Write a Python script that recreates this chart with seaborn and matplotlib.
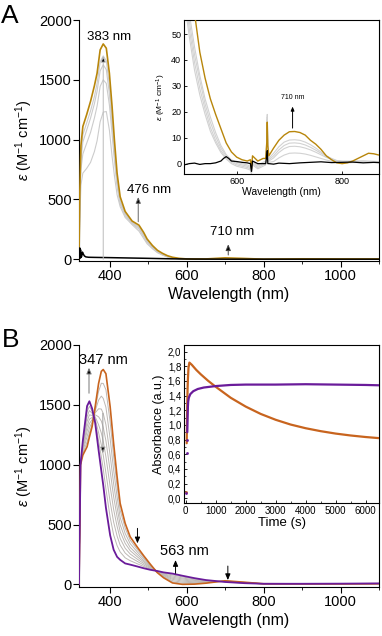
import matplotlib
matplotlib.use("Agg")
import matplotlib.pyplot as plt
import seaborn as sns
from matplotlib.ticker import MultipleLocator, FuncFormatter

# ---------------- Panel A : main spectra ----------------
WL_A = [320, 322, 325, 330, 340, 350, 360, 367, 375, 383, 391, 399, 406, 412, 419,
        427, 440, 458, 476, 488, 497, 511, 524, 537, 550, 563, 580, 600, 650, 700,
        750, 800, 900, 1000, 1100]
A_GOLD = [0, 550, 950, 1110, 1210, 1320, 1450, 1555, 1750, 1800, 1764, 1555, 1276, 1000, 720,
          523, 400, 320, 285, 225, 170, 115, 75, 50, 30, 17, 8, 3, 3, 12,
          7, 1, 4, 3, 3]
A_GREY_4 = [0, 500, 880, 1040, 1140, 1240, 1360, 1470, 1650, 1700, 1660, 1450, 1180, 920, 665,
            490, 385, 310, 270, 210, 158, 105, 68, 44, 25, 13, 5, 1, 1, 9,
            4, 0, 2, 2, 2]
A_GREY_3 = [0, 470, 830, 980, 1080, 1180, 1300, 1405, 1575, 1625, 1585, 1385, 1120, 880, 640,
            475, 378, 305, 262, 200, 150, 100, 64, 41, 23, 12, 4, 0, 0, 8,
            3, 0, 2, 2, 2]
A_GREY_2 = [0, 420, 750, 880, 970, 1060, 1180, 1280, 1445, 1500, 1470, 1290, 1050, 830, 610,
            460, 365, 298, 252, 190, 142, 95, 60, 38, 21, 11, 3, 0, 0, 7,
            2, 0, 1, 1, 1]
A_GREY_1 = [0, 330, 620, 720, 760, 810, 900, 990, 1150, 1230, 1235, 1080, 860, 700, 540,
            440, 350, 290, 235, 175, 130, 88, 55, 35, 19, 10, 3, 0, 0, 4,
            1, 0, 1, 1, 1]
A_BLK_WL = [320, 321, 322, 323, 324, 325, 327, 329, 331, 334, 338, 345, 360, 400, 450,
            500, 560, 620, 700, 800, 900, 1000, 1100]
A_BLK = [0, 40, 95, 10, 80, 15, 25, 60, 45, 28, 20, 17, 16, 14, 11,
         8, 4, 2, 1, 1, 1, 1, 1]

# ---------------- Panel A : inset ----------------
WL_I = [500, 510, 520, 530, 540, 550, 560, 570, 580, 590, 600, 610, 620, 626, 628,
        630, 640, 650, 655, 657, 658, 659, 661, 670, 680, 690, 700, 710, 720, 730,
        740, 750, 760, 770, 780, 790, 800, 810, 820, 830, 840, 850, 860, 870]
I_GOLD = [90, 72, 58, 43, 33, 25, 19, 13.5, 8, 4.5, 2.5, 1.5, 1, 1.5, -2,
          3, 1, 2, 2, 8, 16, 7, 3, 6, 9, 11, 12.3, 12.4, 12, 11,
          9, 7.5, 5.5, 3, 1.5, 0.3, 0, 0.3, 1, 2, 3, 4, 3.8, 3.3]
I_GREY_4 = [75, 58, 45, 34, 25, 18, 12, 7, 3.5, 1.5, 0.5, 0, -0.5, -1, -3,
            1, -0.5, 0.5, 1, 8, 19, 6, 2, 4, 6.5, 8.3, 9.1, 9.2, 9, 8.3,
            7.3, 6, 4.5, 3, 2, 1.2, 1, 1, 1, 1, 1.1, 1, 0.9, 0.8]
I_GREY_3 = [72, 55, 42, 32, 23, 16, 10.5, 6, 3, 1, 0, -0.5, -1, -1.5, -3,
            0.5, -1, 0, 0.5, 7, 18, 5, 1.5, 3, 5.3, 7, 7.9, 8, 7.8, 7.2,
            6.3, 5.2, 4, 2.8, 1.8, 1.1, 0.8, 0.8, 0.8, 0.9, 0.9, 0.8, 0.7, 0.6]
I_GREY_2 = [68, 52, 39, 29, 21, 14, 9, 5, 2.3, 0.5, -0.5, -1, -1.5, -2, -3.5,
            0, -1.5, -0.5, 0, 6, 17, 4, 1, 2.2, 4.3, 5.8, 6.6, 6.7, 6.5, 6,
            5.3, 4.4, 3.4, 2.4, 1.6, 0.9, 0.6, 0.6, 0.6, 0.7, 0.7, 0.6, 0.5, 0.5]
I_GREY_1 = [64, 49, 36, 26.5, 19, 12.5, 8, 4.3, 1.8, 0, -1, -1.5, -2, -2.5, -4,
            -0.5, -2, -1, -0.5, 5, 15, 3, 0.5, 0.8, 2.2, 3.3, 4, 4.1, 4, 3.7,
            3.2, 2.6, 2, 1.4, 0.9, 0.5, 0.3, 0.3, 0.4, 0.4, 0.5, 0.4, 0.4, 0.3]
I_BLK_WL = [500, 510, 520, 530, 540, 550, 560, 570, 575, 580, 585, 590, 600, 610, 620,
            626, 628, 630, 640, 650, 655, 657, 658, 659, 661, 670, 680, 700, 720, 740,
            760, 780, 800, 820, 840, 860, 870]
I_BLK = [-0.5, 0, 0.2, -0.3, 0, 0, 0.3, 1, 2, 2.7, 2, 1, 0.8, 0.5, 0.3,
         0, -3, 1, 0, 0, 0, 3, 5, 0, 0, -0.2, 0.2, 0, 0.3, 0.5,
         0.7, 0.4, 0.5, 0.6, 0.3, 0.5, 0.4]

# ---------------- Panel B : main spectra ----------------
WL_B = [320, 324, 330, 341, 347, 354, 362, 371, 378, 383, 390, 401, 410, 419, 427,
        440, 453, 471, 488, 505, 523, 540, 563, 589, 620, 650, 700, 750, 800, 900,
        1000, 1100]
B_ORANGE = [0, 1000, 1080, 1150, 1230, 1317, 1484, 1680, 1780, 1795, 1760, 1484, 1178, 900, 677,
            510, 398, 314, 240, 170, 100, 55, 12, 0, 2, 10, 30, 18, 5, 4,
            4, 5]
B_PURPLE = [0, 1000, 1200, 1490, 1530, 1470, 1350, 1120, 950, 830, 640, 410, 290, 230, 205,
            175, 165, 150, 135, 122, 112, 100, 90, 72, 52, 36, 20, 10, 5, 5,
            6, 8]
B_GREY_1 = [0, 1000, 1094, 1191, 1266, 1335, 1468, 1613, 1680, 1679, 1626, 1355, 1071, 820, 620,
            470, 370, 294, 227, 164, 101, 60, 21, 9, 8, 13, 29, 17, 5, 4, 4, 5]
B_GREY_2 = [0, 1000, 1110, 1235, 1305, 1355, 1450, 1540, 1573, 1554, 1480, 1216, 956, 733, 559,
            426, 340, 273, 214, 158, 103, 66, 31, 18, 14, 16, 28, 16, 5, 4, 5, 6]
B_GREY_3 = [0, 1000, 1126, 1279, 1344, 1375, 1433, 1467, 1465, 1428, 1334, 1076, 841, 645, 498,
            383, 309, 252, 200, 152, 105, 72, 42, 27, 21, 20, 26, 15, 5, 4, 5, 6]
B_GREY_4 = [0, 1000, 1140, 1320, 1380, 1394, 1417, 1400, 1365, 1313, 1200, 947, 734, 565, 441,
            343, 282, 232, 188, 146, 106, 78, 51, 36, 27, 23, 25, 14, 5, 5, 5, 6]
B_GREY_5 = [0, 1000, 1154, 1361, 1416, 1412, 1401, 1333, 1265, 1197, 1066, 818, 627, 485, 384,
            302, 254, 212, 175, 140, 107, 83, 60, 45, 33, 26, 24, 13, 5, 5, 5, 7]
B_GREY_6 = [0, 1000, 1169, 1402, 1452, 1430, 1385, 1266, 1166, 1081, 931, 689, 521, 404, 328,
            262, 226, 193, 162, 134, 109, 88, 70, 53, 39, 29, 23, 12, 5, 5, 6, 7]
B_GREY_7 = [0, 1000, 1183, 1442, 1488, 1449, 1369, 1198, 1066, 965, 797, 560, 414, 324, 271,
            222, 198, 173, 150, 129, 110, 94, 79, 62, 45, 32, 21, 11, 5, 5, 6, 8]

# ---------------- Panel B : inset kinetics ----------------
T_ORANGE = [30, 40, 50, 60, 70, 90, 120, 200, 350, 500, 750, 1000, 1500, 2000, 2500,
            3000, 3500, 4000, 4500, 5000, 5500, 6000, 6500]
ABS_ORANGE = [0.75, 1.05, 1.3, 1.5, 1.62, 1.78, 1.85, 1.82, 1.75, 1.69, 1.6, 1.52, 1.37, 1.25, 1.15,
              1.07, 1.005, 0.955, 0.915, 0.882, 0.856, 0.835, 0.818]
T_PURPLE = [50, 60, 70, 80, 100, 150, 250, 400, 600, 1000, 1500, 2000, 3000, 4000, 5000,
            6000, 6500]
ABS_PURPLE = [0.9, 1.1, 1.25, 1.32, 1.37, 1.42, 1.46, 1.49, 1.51, 1.53, 1.545, 1.55, 1.55, 1.555, 1.55,
              1.545, 1.54]
T_PURPLE_EARLY = [20, 35, 45]
ABS_PURPLE_EARLY = [0.07, 0.62, 0.79]
T_ORANGE_EARLY = [20]
ABS_ORANGE_EARLY = [0.08]

# colours
GOLD = '#B8860B'
ORANGE = '#C8641E'
PURPLE = '#6A1B9A'
GREY_A = '#cccccc'
GREY_B = '#bdb8b4'

sns.set_theme(style="ticks", rc={
    'axes.edgecolor': 'black', 'xtick.color': 'black', 'ytick.color': 'black',
    'text.color': 'black', 'axes.labelcolor': 'black', 'axes.linewidth': 0.8})
plt.rcParams['font.family'] = ['Liberation Sans', 'DejaVu Sans']
plt.rcParams['mathtext.fontset'] = 'custom'
plt.rcParams['mathtext.rm'] = 'Liberation Sans'
plt.rcParams['mathtext.it'] = 'Liberation Sans:italic'

EPS_LABEL = r'$\varepsilon$ (M$^{-1}$ cm$^{-1}$)'


def line(ax, x, y, color, lw, z=2):
    sns.lineplot(x=x, y=y, ax=ax, color=color, linewidth=lw, estimator=None,
                 sort=False, legend=False, zorder=z)


def arrow(ax, x, y0, y1, shaft='black', ms=9):
    ax.annotate('', xy=(x, y1), xytext=(x, y0),
                arrowprops=dict(arrowstyle='-|>,head_length=0.4,head_width=0.17',
                                ec=shaft, fc='black', lw=0.7, shrinkA=0, shrinkB=0,
                                mutation_scale=ms), zorder=6)


fig = plt.figure(figsize=(3.82, 6.36), dpi=100)
L, W = 79 / 382, 300 / 382
IL, IW = 184 / 382, 195 / 382
axA = fig.add_axes([L, 1 - 260.5 / 636, W, 240.5 / 636])
axAi = fig.add_axes([IL, 1 - 174 / 636, IW, 154 / 636])
axB = fig.add_axes([L, 1 - 587 / 636, W, 242 / 636])
axBi = fig.add_axes([IL, 1 - 503 / 636, IW, 158 / 636])

# ----- main A -----
for g in (A_GREY_1, A_GREY_2, A_GREY_3, A_GREY_4):
    line(axA, WL_A, g, GREY_A, 0.8, 2)
line(axA, WL_A, A_GOLD, GOLD, 1.2, 3)
line(axA, A_BLK_WL, A_BLK, 'black', 1.1, 4)
axA.set_ylim(-10, 2000)
arrow(axA, 383, 0, 1700, shaft='#bbbbbb')
axA.text(399, 1861, '383 nm', ha='center', va='center', fontsize=9.5)
arrow(axA, 474, 314, 520, shaft='#666666')
axA.text(501, 580, '476 nm', ha='center', va='center', fontsize=9.5)
arrow(axA, 708, 36, 125, shaft='#444444')
axA.text(717, 231, '710 nm', ha='center', va='center', fontsize=9.5)

# ----- main B -----
for g in (B_GREY_1, B_GREY_2, B_GREY_3, B_GREY_4, B_GREY_5, B_GREY_6, B_GREY_7):
    line(axB, WL_B, g, GREY_B, 0.7, 2)
line(axB, WL_B, B_ORANGE, ORANGE, 1.2, 3)
line(axB, WL_B, B_PURPLE, PURPLE, 1.3, 4)
axB.set_ylim(-22, 2000)
arrow(axB, 346, 1597, 1810, shaft='#777777')
axB.text(384, 1873, '347 nm', ha='center', va='center', fontsize=10.5)
arrow(axB, 382, 1430, 1095, shaft='#999999')
arrow(axB, 472, 468, 343)
arrow(axB, 571, 92, 203)
axB.text(595, 278, '563 nm', ha='center', va='center', fontsize=10.5)
arrow(axB, 707, 153, 36)

for ax in (axA, axB):
    ax.set_xlim(320, 1100)
    ax.xaxis.set_major_locator(MultipleLocator(200))
    ax.xaxis.set_minor_locator(MultipleLocator(100))
    ax.yaxis.set_major_locator(MultipleLocator(500))
    ax.tick_params(which='major', direction='out', length=4.5, width=0.8, labelsize=10.5)
    ax.tick_params(which='minor', direction='out', length=2.5, width=0.6)
    ax.tick_params(axis='x', which='major', pad=1.5)
    ax.tick_params(axis='y', which='major', pad=0.5)
    ax.spines['top'].set_visible(False)
    ax.set_xlabel('Wavelength (nm)', fontsize=11.5, labelpad=3)
    ax.set_ylabel(EPS_LABEL, fontsize=10.5, labelpad=3)
    ax.set_facecolor('white')

# ----- inset A -----
for g in (I_GREY_1, I_GREY_2, I_GREY_3, I_GREY_4):
    line(axAi, WL_I, g, '#d2d2d2', 0.8, 2)
line(axAi, WL_I, I_GOLD, GOLD, 1.0, 3)
line(axAi, I_BLK_WL, I_BLK, 'black', 0.9, 4)
axAi.set_xlim(500, 870)
axAi.set_ylim(-4, 55.4)
axAi.xaxis.set_major_locator(MultipleLocator(200))
axAi.yaxis.set_major_locator(MultipleLocator(10))
axAi.tick_params(direction='in', length=2.5, width=0.6, labelsize=6.5, pad=2)
axAi.set_xlabel('Wavelength (nm)', fontsize=7.5, labelpad=1)
axAi.set_ylabel(EPS_LABEL, fontsize=6, labelpad=2)
arrow(axAi, 706, 13.7, 22, ms=6)
axAi.text(706, 25.5, '710 nm', ha='center', va='center', fontsize=5)
axAi.set_facecolor('white')

# ----- inset B -----
sns.scatterplot(x=T_PURPLE_EARLY, y=ABS_PURPLE_EARLY, ax=axBi, color=PURPLE, s=4,
                linewidth=0, legend=False, zorder=4)
sns.scatterplot(x=T_ORANGE_EARLY, y=ABS_ORANGE_EARLY, ax=axBi, color=ORANGE, s=4,
                linewidth=0, legend=False, zorder=3)
line(axBi, T_ORANGE, ABS_ORANGE, ORANGE, 1.6, 3)
line(axBi, T_PURPLE, ABS_PURPLE, PURPLE, 1.6, 4)
axBi.set_xlim(-60, 6450)
axBi.set_ylim(-0.065, 2.09)
axBi.xaxis.set_major_locator(MultipleLocator(1000))
axBi.xaxis.set_minor_locator(MultipleLocator(500))
axBi.yaxis.set_major_locator(MultipleLocator(0.2))
axBi.yaxis.set_minor_locator(MultipleLocator(0.1))
axBi.yaxis.set_major_formatter(FuncFormatter(lambda v, p: f"{v:.1f}".replace('.', ',')))
axBi.tick_params(which='major', direction='in', length=2.5, width=0.6, labelsize=7, pad=2)
axBi.tick_params(which='minor', direction='in', length=1.5, width=0.5)
axBi.set_xlabel('Time (s)', fontsize=9.5, labelpad=1)
axBi.set_ylabel('Absorbance (a.u.)', fontsize=9, labelpad=2)
axBi.set_facecolor('white')

for ax in (axAi, axBi):
    for s in ax.spines.values():
        s.set_linewidth(0.8)
        s.set_visible(True)

fig.text(0.003, 1 - 23.3 / 636, 'A', fontsize=19, ha='left', va='baseline')
fig.text(0.005, 1 - 346.7 / 636, 'B', fontsize=19, ha='left', va='baseline')

fig.savefig('out.png', dpi=100)
